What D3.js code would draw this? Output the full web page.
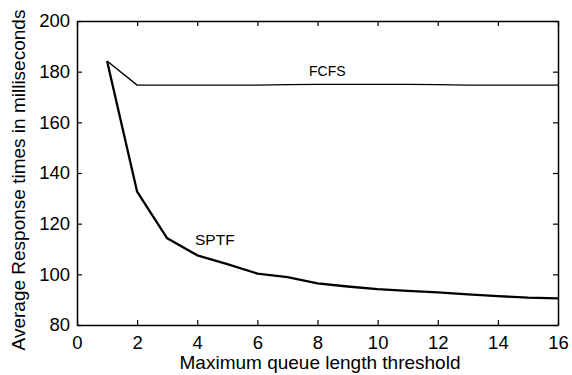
<!DOCTYPE html>
<html>
<head>
<meta charset="utf-8">
<script src="https://cdn.jsdelivr.net/npm/d3@7"></script>
<style>
  html, body { margin: 0; padding: 0; background: #fff; }
  svg text { font-family: "Liberation Sans", Arial, Helvetica, sans-serif; fill: #000; }
</style>
</head>
<body>
<svg id="chart" width="572" height="375"></svg>
<script>
// Queue length thresholds and measured average response times (ms)
const thresholds = [1, 2, 3, 4, 5, 6, 7, 8, 9, 10, 11, 12, 13, 14, 15, 16];
const fcfs = [184.2, 174.7, 174.7, 174.7, 174.7, 174.7, 174.9, 175.0, 175.0, 175.0, 175.0, 174.9, 174.7, 174.7, 174.7, 174.7];
const sptf = [184.2, 132.6, 114.2, 107.5, 104.0, 100.3, 98.9, 96.4, 95.2, 94.2, 93.5, 92.9, 92.1, 91.4, 90.8, 90.5];
const xTicks = [0, 2, 4, 6, 8, 10, 12, 14, 16];
const yTicks = [80, 100, 120, 140, 160, 180, 200];

const svg = d3.select("#chart");
const m = { left: 77, top: 21, right: 558, bottom: 325 };

const x = d3.scaleLinear().domain([0, 16]).range([m.left, m.right]);
const y = d3.scaleLinear().domain([80, 200]).range([m.bottom, m.top]);
const tickLen = 5;

// Axes with inward ticks on all four sides
const axisBottom = d3.axisBottom(x).tickValues(xTicks).tickSizeInner(-tickLen).tickSizeOuter(0).tickPadding(11);
const axisTop = d3.axisTop(x).tickValues(xTicks).tickSizeInner(-tickLen).tickSizeOuter(0).tickFormat("");
const axisLeft = d3.axisLeft(y).tickValues(yTicks).tickSizeInner(-tickLen).tickSizeOuter(0).tickPadding(7);
const axisRight = d3.axisRight(y).tickValues(yTicks).tickSizeInner(-tickLen).tickSizeOuter(0).tickFormat("");

function style(g) {
  g.selectAll("path.domain").attr("stroke", "#000").attr("stroke-width", 1.5);
  g.selectAll(".tick line").attr("stroke", "#000").attr("stroke-width", 1.2);
  g.selectAll(".tick text").attr("font-size", 18.5).attr("font-family", "Liberation Sans, Arial, sans-serif");
}

svg.append("g").attr("transform", `translate(0,${m.bottom})`).call(axisBottom).call(style);
svg.append("g").attr("transform", `translate(0,${m.top})`).call(axisTop).call(style);
svg.append("g").attr("transform", `translate(${m.left},0)`).call(axisLeft).call(style);
svg.append("g").attr("transform", `translate(${m.right},0)`).call(axisRight).call(style);

// Series lines
const line = (vals) => d3.line()
  .x((d, i) => x(thresholds[i]))
  .y(d => y(d))(vals);

svg.append("path").attr("d", line(fcfs))
  .attr("fill", "none").attr("stroke", "#000").attr("stroke-width", 1.4).attr("stroke-linejoin", "round");
svg.append("path").attr("d", line(sptf))
  .attr("fill", "none").attr("stroke", "#000").attr("stroke-width", 2.3).attr("stroke-linejoin", "round");

// Series labels
svg.append("text").attr("x", 309).attr("y", 76).attr("font-size", 14).text("FCFS");
svg.append("text").attr("x", 195).attr("y", 245).attr("font-size", 15.5).text("SPTF");

// Axis titles
svg.append("text")
  .attr("x", 320).attr("y", 369)
  .attr("text-anchor", "middle").attr("font-size", 19)
  .text("Maximum queue length threshold");
svg.append("text")
  .attr("transform", `translate(25,180) rotate(-90)`)
  .attr("text-anchor", "middle").attr("font-size", 19)
  .text("Average Response times in milliseconds");
</script>
</body>
</html>
